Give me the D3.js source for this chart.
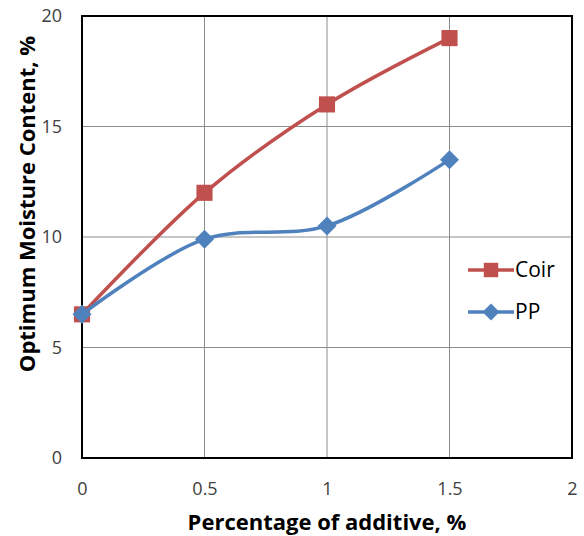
<!DOCTYPE html>
<html>
<head>
<meta charset="utf-8">
<script src="https://cdn.jsdelivr.net/npm/d3@7"></script>
<style>
  body { margin: 0; background: #fff; }
  text { font-family: "Open Sans", sans-serif; }
</style>
</head>
<body>
<div id="chart"></div>
<script>
// data
const additive = [0, 0.5, 1, 1.5];
const coir = [6.5, 12, 16, 19];
const pp = [6.5, 9.9, 10.5, 13.5];
const xTicks = [0, 0.5, 1, 1.5, 2];
const yTicks = [0, 5, 10, 15, 20];

const width = 584, height = 536;
const margin = { top: 16, right: 12, bottom: 78, left: 82 };
const w = width - margin.left - margin.right,
      h = height - margin.top - margin.bottom;

const svg = d3.select("#chart").append("svg")
    .attr("width", width)
    .attr("height", height);

const chart = svg.append("g")
    .attr("transform", `translate(${margin.left},${margin.top})`);

const x = d3.scaleLinear().domain([0, 2]).range([0, w]);
const y = d3.scaleLinear().domain([0, 20]).range([h, 0]);

// grid
chart.append("g")
    .selectAll("line")
    .data(xTicks)
    .enter().append("line")
    .attr("x1", d => x(d)).attr("x2", d => x(d))
    .attr("y1", 0).attr("y2", h)
    .attr("stroke", "#8c8c8c").attr("stroke-width", 1);

chart.append("g")
    .selectAll("line")
    .data(yTicks)
    .enter().append("line")
    .attr("x1", 0).attr("x2", w)
    .attr("y1", d => y(d)).attr("y2", d => y(d))
    .attr("stroke", "#8c8c8c").attr("stroke-width", 1);

// border
chart.append("rect")
    .attr("width", w).attr("height", h)
    .attr("fill", "none")
    .attr("stroke", "#000")
    .attr("stroke-width", 2);

// axes (labels only)
const xAxis = chart.append("g")
    .attr("transform", `translate(0,${h})`)
    .call(d3.axisBottom(x).tickValues(xTicks).tickSize(0).tickPadding(24).tickFormat(d3.format("")));
const yAxis = chart.append("g")
    .call(d3.axisLeft(y).tickValues(yTicks).tickSize(0).tickPadding(20));
[xAxis, yAxis].forEach(a => {
    a.select(".domain").remove();
    a.selectAll("text").style("font-size", "18px").attr("fill", "#404040").style("font-family", "'Open Sans', sans-serif");
});

const line = d3.line()
    .x((d, i) => x(additive[i]))
    .y(d => y(d))
    .curve(d3.curveCatmullRom.alpha(0.5));

const series = [
    { name: "Coir", values: coir, color: "#c0504d", rot: 0, size: 260 },
    { name: "PP", values: pp, color: "#4f81bd", rot: 45, size: 180 }
];

series.forEach(s => {
    chart.append("path")
        .datum(s.values)
        .attr("fill", "none")
        .attr("stroke", s.color)
        .attr("stroke-width", 3.5)
        .attr("d", line);
    chart.selectAll(null)
        .data(s.values)
        .enter().append("path")
        .attr("transform", (d, i) => `translate(${x(additive[i])},${y(d)}) rotate(${s.rot})`)
        .attr("d", d3.symbol().type(d3.symbolSquare).size(s.size))
        .attr("fill", s.color);
});

// legend
const legend = chart.append("g").attr("transform", `translate(386,254)`);
series.forEach((s, i) => {
    const g = legend.append("g").attr("transform", `translate(0,${i * 42})`);
    g.append("line").attr("x1", 0).attr("x2", 46).attr("stroke", s.color).attr("stroke-width", 3.5);
    g.append("path").attr("transform", `translate(23,0) rotate(${s.rot})`)
        .attr("d", d3.symbol().type(d3.symbolSquare).size(s.size * 0.8)).attr("fill", s.color);
    g.append("text").attr("x", 47).attr("dy", "0.35em")
        .style("font-size", "21px").attr("fill", "#000").text(s.name);
});

// axis titles
svg.append("text")
    .attr("x", margin.left + w / 2)
    .attr("y", 530)
    .attr("text-anchor", "middle")
    .style("font-size", "22px").style("font-weight", "bold")
    .text("Percentage of additive, %");

svg.append("text")
    .attr("transform", `translate(35,${margin.top + 188}) rotate(-90)`)
    .attr("text-anchor", "middle")
    .style("font-size", "22px").style("font-weight", "bold")
    .text("Optimum Moisture Content, %");
</script>
</body>
</html>
